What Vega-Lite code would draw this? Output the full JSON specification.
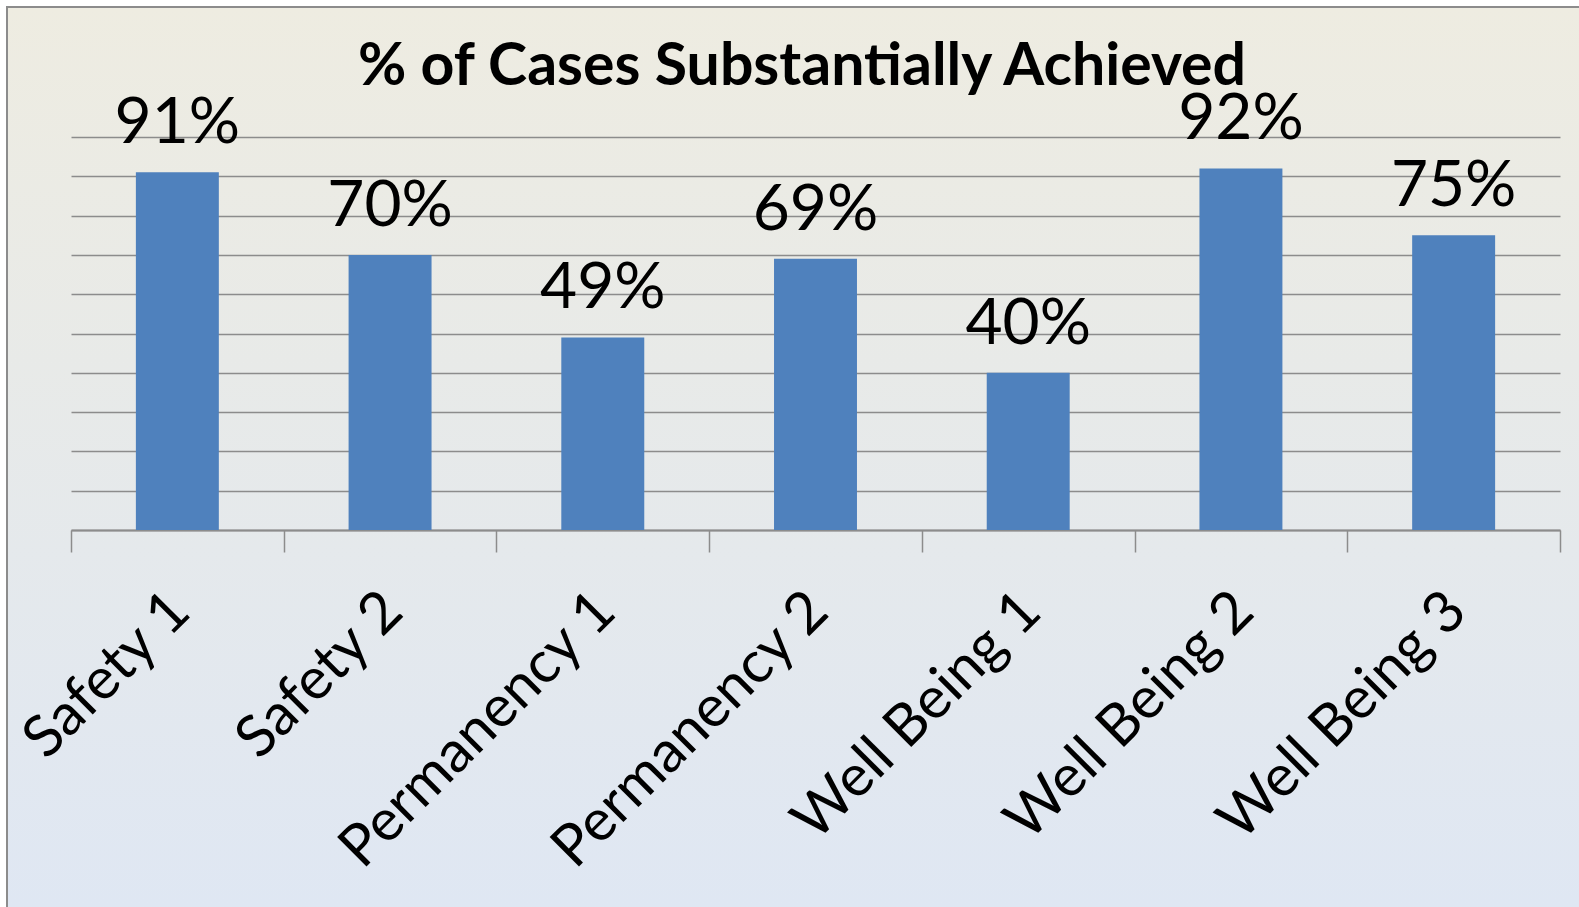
{
  "$schema": "https://vega.github.io/schema/vega-lite/v6.json",
  "autosize": {"type": "none"},
  "padding": {"left": 7, "top": 7, "right": 0, "bottom": 0},
  "width": 1572,
  "height": 900,
  "background": "#ffffff",
  "title": {
    "text": "% of Cases Substantially Achieved",
    "font": "Lato",
    "fontSize": 59,
    "fontWeight": "bold",
    "color": "#000000",
    "anchor": "middle",
    "baseline": "alphabetic",
    "offset": -137,
    "dx": 9
  },
  "data": {
    "values": [
      {"category": "Safety 1", "pct": 0.91},
      {"category": "Safety 2", "pct": 0.70},
      {"category": "Permanency 1", "pct": 0.49},
      {"category": "Permanency 2", "pct": 0.69},
      {"category": "Well Being 1", "pct": 0.40},
      {"category": "Well Being 2", "pct": 0.92},
      {"category": "Well Being 3", "pct": 0.75}
    ]
  },
  "encoding": {
    "x": {
      "field": "category",
      "type": "nominal",
      "sort": null,
      "scale": {"range": [64, 1553], "paddingInner": 0, "paddingOuter": 0},
      "axis": {
        "title": null,
        "offset": -377,
        "labelAngle": -45,
        "labelAlign": "right",
        "labelBaseline": "middle",
        "labelFont": "Lato",
        "labelFontSize": 58,
        "labelColor": "#000000",
        "labelPadding": 50,
        "labelOffset": 3,
        "labelLimit": 1000,
        "labelOverlap": false,
        "tickBand": "extent",
        "tickSize": 22,
        "tickWidth": 1.5,
        "tickColor": "#8C8C8C",
        "domainColor": "#8C8C8C",
        "domainWidth": 2,
        "grid": false
      }
    },
    "y": {
      "field": "pct",
      "type": "quantitative",
      "scale": {"domain": [0, 1], "range": [523, 130], "nice": false, "zero": true},
      "axis": {
        "title": null,
        "values": [0, 0.1, 0.2, 0.3, 0.4, 0.5, 0.6, 0.7, 0.8, 0.9, 1.0],
        "grid": true,
        "gridColor": "#8C8C8C",
        "gridWidth": 1.3,
        "labels": false,
        "ticks": false,
        "domain": false
      }
    }
  },
  "layer": [
    {
      "mark": {"type": "bar", "color": "#4F81BD", "width": {"band": 0.39}}
    },
    {
      "mark": {
        "type": "text",
        "font": "Lato",
        "fontSize": 64,
        "color": "#000000",
        "baseline": "alphabetic",
        "align": "center",
        "dy": -29
      },
      "encoding": {
        "text": {"field": "pct", "type": "quantitative", "format": ".0%"}
      }
    }
  ],
  "config": {
    "font": "Lato",
    "view": {
      "fill": {
        "gradient": "linear",
        "x1": 0, "y1": 0, "x2": 0, "y2": 1,
        "stops": [
          {"offset": 0, "color": "#EEECE1"},
          {"offset": 1, "color": "#DFE7F3"}
        ]
      },
      "stroke": "#8C8C8C",
      "strokeWidth": 2,
      "strokeDash": [1572, 2472, 900, 10]
    }
  }
}
